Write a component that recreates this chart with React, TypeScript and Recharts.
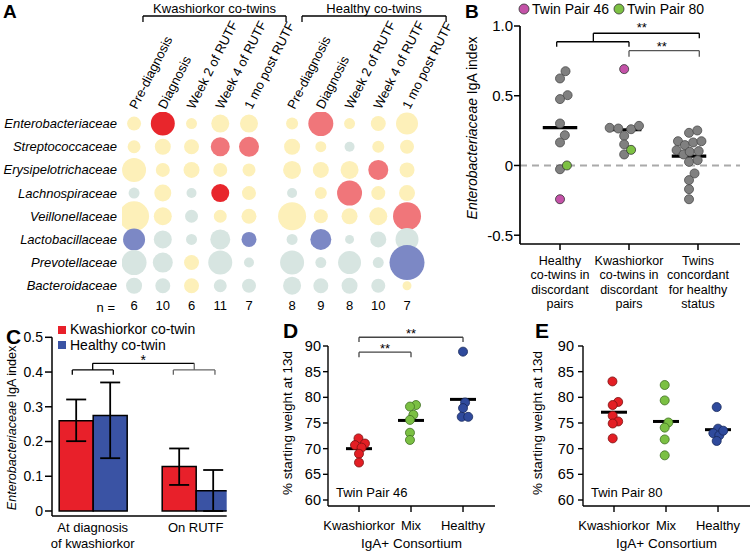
import React from 'react';
import {
  ScatterChart, Scatter, XAxis, YAxis, ZAxis, Cell, ReferenceLine, ReferenceDot,
  BarChart, Bar, ErrorBar, Legend,
} from 'recharts';

const FONT = '"Liberation Sans", Arial, Helvetica, sans-serif';

// ================= Panel A data =================
const families = ['Enterobacteriaceae', 'Streptococcaceae', 'Erysipelotrichaceae', 'Lachnospiraceae', 'Veillonellaceae', 'Lactobacillaceae', 'Prevotellaceae', 'Bacteroidaceae'];
const timepoints = ['Pre-diagnosis', 'Diagnosis', 'Week 2 of RUTF', 'Week 4 of RUTF', '1 mo post RUTF'];
const kwashN = [6, 10, 6, 11, 7];
const healthyN = [8, 9, 8, 10, 7];
const kwashAbund = [
  [49, 144, 30, 81, 81],
  [42, 64, 56, 90, 100],
  [144, 49, 64, 49, 42],
  [30, 72, 25, 81, 49],
  [225, 81, 42, 42, 56],
  [121, 81, 30, 100, 56],
  [156, 100, 56, 144, 25],
  [64, 56, 56, 42, 49],
];
const healthyAbund = [
  [36, 156, 30, 56, 121],
  [64, 30, 25, 36, 49],
  [81, 64, 81, 100, 56],
  [25, 36, 156, 49, 64],
  [196, 49, 64, 81, 196],
  [30, 110, 20, 64, 132],
  [144, 30, 132, 30, 306],
  [81, 56, 64, 49, 20],
];
const kwashClass = ['YRYYY', 'YYYPP', 'YYYYY', 'GYGRY', 'YYGYY', 'BGGGB', 'GGYGG', 'GGYGG'];
const healthyClass = ['YPYYY', 'YYGYY', 'YYYPY', 'GYPYY', 'YYYYP', 'GBGGG', 'GGGGB', 'GGGGY'];
const classColor: Record<string, string> = { R: '#e8262c', P: '#f0767a', Y: '#fdf0b9', G: '#d7e5e1', B: '#7c88c5' };

// ================= Panel B data =================
const bCategories = [
  ['Healthy', 'co-twins in', 'discordant', 'pairs'],
  ['Kwashiorkor', 'co-twins in', 'discordant', 'pairs'],
  ['Twins', 'concordant', 'for healthy', 'status'],
];
const bHealthyIdx = [0.676, 0.624, 0.504, 0.476, 0.301, 0.217, 0.165, -0.027];
const bHealthyJit = [0.08, 0, 0.11, 0, 0, 0.07, 0, 0];
const bKwashIdx = [0.27, 0.265, 0.26, 0.284, 0.212, 0.151, 0.079];
const bKwashJit = [-0.28, -0.155, 0.03, 0.145, -0.07, -0.07, -0.07];
const bConcIdx = [0.234, 0.251, 0.174, 0.146, 0.165, 0.174, 0.11, 0.079, 0.098, 0.103, 0.026, 0.038, -0.057, -0.105, -0.17, -0.242];
const bConcJit = [-0.13, -0.01, -0.29, -0.19, -0.07, 0.05, -0.31, -0.21, -0.12, 0.01, -0.13, -0.005, -0.05, -0.13, -0.13, -0.13];
const pair46Idx = [-0.242, 0.691];
const pair46Jit = [0, -0.07];
const pair80Idx = [0.0, 0.112];
const pair80Jit = [0.1, 0.03];
const bMedians = [0.272, 0.256, 0.067];

// ================= Panel C data =================
const cGroups = [['At diagnosis', 'of kwashiorkor'], ['On RUTF']];
const cKwash = [0.26, 0.128];
const cKwashErr = [[0.059, 0.061], [0.053, 0.052]];
const cHealthy = [0.275, 0.058];
const cHealthyErr = [[0.123, 0.095], [0.058, 0.06]];

// ================= Panels D/E data =================
const consortia = ['Kwashiorkor', 'Mix', 'Healthy'];
const dKwash = [72.0, 71.0, 70.7, 70.2, 69.0, 67.3];
const dKwashJit = [-0.01, 0.115, -0.077, 0.05, 0, 0];
const dMix = [78.5, 78.2, 76.6, 75.6, 73.1, 71.7];
const dMixJit = [0.096, -0.02, 0.045, -0.02, -0.02, -0.02];
const dHealthy = [88.9, 79.0, 77.9, 76.2, 76.2];
const dHealthyJit = [0, 0.04, 0, -0.025, 0.1];
const dMeans = [70.0, 75.5, 79.6];
const eKwash = [83.1, 79.1, 78.5, 76.4, 75.3, 74.9, 72.0];
const eKwashJit = [-0.03, 0.08, -0.025, -0.025, 0.08, -0.025, -0.025];
const eMix = [82.4, 79.4, 75.1, 74.1, 71.8, 68.7];
const eMixJit = [-0.025, -0.025, 0.045, -0.025, -0.025, -0.025];
const eHealthy = [78.1, 73.9, 73.0, 72.6, 73.5, 71.5];
const eHealthyJit = [-0.025, 0, -0.09, 0.025, 0.1, -0.025];
const eMeans = [77.1, 75.3, 73.7];

// ================= helpers =================
function seg(key: string, x1: number, y1: number, x2: number, y2: number, stroke = '#000', extra: any = {}) {
  return (
    <ReferenceLine key={key} segment={[{ x: x1, y: y1 }, { x: x2, y: y2 }]} stroke={stroke}
      strokeWidth={1.3} ifOverflow="visible" {...extra} />
  );
}
function bracket(key: string, xL: number, xR: number, yH: number, yEnd: number, stroke = '#000', extra: any = {}) {
  return [
    seg(key + 'h', xL, yH, xR, yH, stroke, extra),
    seg(key + 'l', xL, yH, xL, yEnd, stroke, extra),
    seg(key + 'r', xR, yH, xR, yEnd, stroke, extra),
  ];
}
function note(key: string, x: number, y: number, text: string, fontSize = 13, position: any = 'center', extra: any = {}, labelExtra: any = {}) {
  return (
    <ReferenceDot key={key} x={x} y={y} r={0} fill="none" stroke="none" ifOverflow="visible"
      label={{ value: text, position, fill: '#000', fontSize, offset: 0, ...labelExtra }} {...extra} />
  );
}

// ================= Panel A =================
const colPos = [...timepoints.map((_, i) => i), ...timepoints.map((_, i) => i + 5.5)];
const colLabels = [...timepoints, ...timepoints];
const colN = [...kwashN, ...healthyN];
const bubbles = families.flatMap((_, r) => [
  ...kwashAbund[r].map((z, i) => ({ x: colPos[i], y: r, z, cls: kwashClass[r][i] })),
  ...healthyAbund[r].map((z, i) => ({ x: colPos[i + 5], y: r, z, cls: healthyClass[r][i] })),
]);

function PanelA() {
  const ax = { xAxisId: 'b' };
  const famTick = (p: any) => (
    <text x={p.x} y={p.y} dy="0.35em" textAnchor="end" fontSize={13} fontStyle="italic" fill="#000">
      {families[p.payload.value]}
    </text>
  );
  const nTick = (p: any) => (
    <text x={p.x} y={p.y} dy="0.71em" textAnchor="middle" fontSize={13} fill="#000">
      {colN[colPos.indexOf(p.payload.value)]}
    </text>
  );
  return (
    <ScatterChart width={460} height={320} margin={{ top: 112, right: 30, bottom: 0, left: 0 }}>
      <XAxis xAxisId="b" type="number" dataKey="x" domain={[-0.42, 10.3]} allowDataOverflow ticks={colPos}
        interval={0} height={25} tick={nTick} tickSize={0} tickMargin={6} axisLine={false} tickLine={false}
        label={{ value: 'n =', position: 'left', offset: 7, fontSize: 13, fill: '#000' }} />
      <YAxis type="number" dataKey="y" domain={[-0.5, 7.4]} reversed allowDataOverflow
        ticks={families.map((_, i) => i)} interval={0} width={122} tick={famTick} tickSize={0} tickMargin={5}
        axisLine={false} tickLine={false} />
      <ZAxis type="number" dataKey="z" domain={[0, 400]} range={[0, 400 * Math.PI]} />
      <Scatter xAxisId="b" data={bubbles} isAnimationActive={false}>
        {bubbles.map((d, i) => <Cell key={i} fill={classColor[d.cls]} />)}
      </Scatter>
      {colPos.map((c, i) => note('cl' + i, c - 0.05, -0.681, colLabels[i], 13, 'right', ax, { angle: -63 }))}
      {bracket('kb', 0.31, 5.29, -4.645, -4.386, '#000', ax)}
      {bracket('hb', 5.845, 10.86, -4.645, -4.386, '#000', ax)}
      {note('kt', 2.8, -4.97, 'Kwashiorkor co-twins', 13, 'center', ax)}
      {note('ht', 8.35, -4.97, 'Healthy co-twins', 13, 'center', ax)}
    </ScatterChart>
  );
}

// ================= Panel B =================
function PanelB() {
  const gray = [
    ...bHealthyIdx.map((y, i) => ({ x: 0 + bHealthyJit[i], y })),
    ...bKwashIdx.map((y, i) => ({ x: 1 + bKwashJit[i], y })),
    ...bConcIdx.map((y, i) => ({ x: 2 + bConcJit[i], y })),
  ];
  const p46 = pair46Idx.map((y, i) => ({ x: i + pair46Jit[i], y }));
  const p80 = pair80Idx.map((y, i) => ({ x: i + pair80Jit[i], y }));
  const medOff = [0, -0.07, -0.13];
  const bTick = (p: any) => {
    const lines = bCategories[p.payload.value];
    return (
      <text x={p.x} y={p.y} textAnchor="middle" fontSize={12.5} fill="#000">
        {lines.map((l, i) => <tspan key={i} x={p.x} dy={i === 0 ? 13 : 14.3}>{l}</tspan>)}
      </text>
    );
  };
  const yLabel = () => (
    <text x={12} y={128} transform="rotate(-90 12 128)" textAnchor="middle" dominantBaseline="central" fontSize={14} fill="#000">
      <tspan fontStyle="italic">Enterobacteriaceae</tspan> IgA index
    </text>
  );
  const legend = () => (
    <div style={{ display: 'flex', alignItems: 'center', fontSize: 14, fontFamily: FONT, whiteSpace: 'nowrap', lineHeight: '16px', color: '#000' }}>
      <svg width={12} height={12}><circle cx={6} cy={6} r={5} fill="#c452a8" stroke="#333" strokeWidth={0.8} /></svg>
      <span style={{ marginLeft: 2 }}>Twin Pair 46</span>
      <svg width={12} height={12} style={{ marginLeft: 4 }}><circle cx={6} cy={6} r={5} fill="#7dc143" stroke="#333" strokeWidth={0.8} /></svg>
      <span style={{ marginLeft: 2 }}>Twin Pair 80</span>
    </div>
  );
  return (
    <ScatterChart width={290} height={320} margin={{ top: 26, right: 10, bottom: 6, left: 0 }}>
      <XAxis type="number" dataKey="x" domain={[-0.58, 2.609]} allowDataOverflow ticks={[0, 1, 2]} interval={0}
        height={70} tick={bTick} tickSize={6} tickMargin={2}
        axisLine={{ stroke: '#000', strokeWidth: 1.7 }} tickLine={{ stroke: '#000', strokeWidth: 1.5 }} />
      <YAxis type="number" dataKey="y" domain={[-0.563, 1]} allowDataOverflow ticks={[-0.5, 0, 0.5, 1]} interval={0}
        width={60} tick={{ fill: '#000', fontSize: 15 }} tickSize={6} tickMargin={1}
        tickFormatter={(v: number) => (v === 0 ? '0' : v.toFixed(1))}
        axisLine={{ stroke: '#000', strokeWidth: 1.7 }} tickLine={{ stroke: '#000', strokeWidth: 1.5 }} label={yLabel} />
      <ZAxis range={[62, 62]} />
      <ReferenceLine y={0} stroke="#aaaaaa" strokeWidth={2} strokeDasharray="7 5" />
      <Scatter data={gray} fill="#808080" stroke="#4a4a4a" strokeWidth={0.8} isAnimationActive={false} />
      <Scatter data={p46} fill="#c452a8" stroke="#333" strokeWidth={0.8} isAnimationActive={false} />
      <Scatter data={p80} fill="#7dc143" stroke="#333" strokeWidth={0.8} isAnimationActive={false} />
      {bMedians.map((m, i) => seg('m' + i, i + medOff[i] - 0.25, m, i + medOff[i] + 0.25, m, '#000', { strokeWidth: 3.2 }))}
      {bracket('b1', -0.048, 1, 0.887, 0.851, '#000')}
      {seg('b1s', 0.483, 0.887, 0.483, 0.948)}
      {seg('b1t', 0.483, 0.948, 2.019, 0.948)}
      {seg('b1r', 2.019, 0.948, 2.019, 0.912)}
      {bracket('b2', 1, 2.019, 0.823, 0.78, '#555')}
      {note('s1', 1.184, 0.992, '**', 13)}
      {note('s2', 1.474, 0.855, '**', 13)}
      <Legend layout="horizontal" verticalAlign="middle" align="center"
        wrapperStyle={{ top: 1, left: 58, width: 230, height: 16 }} content={legend} />
    </ScatterChart>
  );
}

// ================= Panel C =================
function PanelC() {
  const cData = cGroups.map((_, i) => ({ idx: i, kw: cKwash[i], kwErr: cKwashErr[i], h: cHealthy[i], hErr: cHealthyErr[i] }));
  const cTick = (p: any) => {
    const lines = cGroups[p.payload.value];
    return (
      <text x={p.x} y={p.y} textAnchor="middle" fontSize={13} fill="#000">
        {lines.map((l, i) => <tspan key={i} x={p.x} dy={i === 0 ? 14 : 16}>{l}</tspan>)}
      </text>
    );
  };
  const yLabel = () => (
    <text x={12} y={138} transform="rotate(-90 12 138)" textAnchor="middle" dominantBaseline="central" fontSize={12.6} fill="#000">
      <tspan fontStyle="italic">Enterobacteriaceae</tspan> IgA index
    </text>
  );
  const legend = () => (
    <div style={{ fontSize: 14, fontFamily: FONT, whiteSpace: 'nowrap', lineHeight: '15.5px', color: '#000' }}>
      <div style={{ display: 'flex', alignItems: 'center' }}>
        <span style={{ display: 'inline-block', width: 8, height: 8, background: '#e8202a', marginRight: 4 }} />Kwashiorkor co-twin
      </div>
      <div style={{ display: 'flex', alignItems: 'center' }}>
        <span style={{ display: 'inline-block', width: 8, height: 8, background: '#3a53a4', marginRight: 4 }} />Healthy co-twin
      </div>
    </div>
  );
  return (
    <BarChart width={250} height={264} data={cData} margin={{ top: 47.3, right: 23.3, bottom: 0, left: 0 }} barGap={0}>
      <XAxis type="number" dataKey="idx" domain={[-0.395, 1.301]} allowDataOverflow ticks={[0, 1]} interval={0}
        height={38} tick={cTick} tickSize={0} tickMargin={2} tickLine={false} axisLine={{ stroke: '#000', strokeWidth: 1.5 }} />
      <YAxis type="number" domain={[-0.0144, 0.5]} allowDataOverflow ticks={[0, 0.1, 0.2, 0.3, 0.4, 0.5]} interval={0}
        width={52} tick={{ fill: '#000', fontSize: 14 }} tickSize={7} tickMargin={2}
        tickFormatter={(v: number) => (v === 0 ? '0' : v.toFixed(1))}
        axisLine={{ stroke: '#000', strokeWidth: 1.5 }} tickLine={{ stroke: '#000', strokeWidth: 1.5 }} label={yLabel} />
      <Bar dataKey="kw" fill="#e8202a" stroke="#000" strokeWidth={1.5} barSize={34} isAnimationActive={false}>
        <ErrorBar dataKey="kwErr" width={10} stroke="#000" strokeWidth={1.8} direction="y" />
      </Bar>
      <Bar dataKey="h" fill="#3a53a4" stroke="#000" strokeWidth={1.5} barSize={34} isAnimationActive={false}>
        <ErrorBar dataKey="hErr" width={10} stroke="#000" strokeWidth={1.8} direction="y" />
      </Bar>
      {bracket('c1', -0.198, 0.2, 0.406, 0.392, '#000')}
      {seg('c1s', 0, 0.406, 0, 0.425)}
      {seg('ct', 0, 0.425, 0.986, 0.425)}
      {bracket('c2', 0.783, 1.187, 0.406, 0.392, '#666')}
      {seg('c2s', 0.986, 0.406, 0.986, 0.425, '#666')}
      {note('cs', 0.49, 0.436, '*', 14)}
      <Legend layout="horizontal" verticalAlign="middle" align="center"
        wrapperStyle={{ top: 32, left: 58, width: 150, height: 31 }} content={legend} />
    </BarChart>
  );
}

// ================= Panels D / E =================
function WeightPanel(props: any) {
  const { width, kw, kwJ, mix, mixJ, hl, hlJ, means, pairLabel, sig, titleX, tickMargin, right } = props;
  const kwD = kw.map((y: number, i: number) => ({ x: 0 + kwJ[i], y }));
  const mixD = mix.map((y: number, i: number) => ({ x: 1 + mixJ[i], y }));
  const hlD = hl.map((y: number, i: number) => ({ x: 2 + hlJ[i], y }));
  const yLabel = () => (
    <text x={titleX} y={205} transform={`rotate(-90 ${titleX} 205)`} textAnchor="start" dominantBaseline="central" fontSize={13.5} fill="#000">
      % starting weight at 13d
    </text>
  );
  return (
    <ScatterChart width={width} height={264} margin={{ top: 56, right, bottom: 0, left: 0 }}>
      <XAxis type="number" dataKey="x" domain={[-0.596, 2.615]} allowDataOverflow ticks={[0, 1, 2]} interval={0}
        tickFormatter={(i: number) => consortia[i]} tick={{ fill: '#000', fontSize: 13 }} tickSize={6} tickMargin={8.5}
        height={48} axisLine={{ stroke: '#000', strokeWidth: 1.4 }} tickLine={{ stroke: '#000', strokeWidth: 1.4 }}
        label={{ value: 'IgA+ Consortium', position: 'insideBottom', offset: 6, fontSize: 13.5, fill: '#000' }} />
      <YAxis type="number" dataKey="y" domain={[58.83, 90]} allowDataOverflow ticks={[60, 65, 70, 75, 80, 85, 90]} interval={0}
        width={78} tick={{ fill: '#000', fontSize: 14.5 }} tickSize={5} tickMargin={tickMargin}
        axisLine={{ stroke: '#000', strokeWidth: 1.4 }} tickLine={{ stroke: '#000', strokeWidth: 1.4 }} label={yLabel} />
      <ZAxis range={[40, 40]} />
      <Scatter data={kwD} fill="#e31e24" stroke="#7a1010" strokeWidth={0.8} isAnimationActive={false} />
      <Scatter data={mixD} fill="#7bc043" stroke="#3f6e22" strokeWidth={0.8} isAnimationActive={false} />
      <Scatter data={hlD} fill="#2f4a9c" stroke="#17285c" strokeWidth={0.8} isAnimationActive={false} />
      {means.map((m: number, i: number) => seg('m' + i, i - 0.25, m, i + 0.25, m, '#000', { strokeWidth: 3 }))}
      {sig && bracket('d1', 0, 1, 88.8, 87.8, '#444')}
      {sig && bracket('d2', 0, 2, 91.7, 90.8, '#444')}
      {sig && note('ds1', 0.5, 89.6, '**', 13)}
      {sig && note('ds2', 1, 92.5, '**', 13)}
      {note('tp', -0.442, 61.5, pairLabel, 13, 'right')}
    </ScatterChart>
  );
}

export default function App() {
  const letter = { fontFamily: FONT, fontWeight: 700, fill: '#000' } as any;
  return (
    <div style={{ position: 'absolute', left: 0, top: 0, width: 750, height: 554, background: '#fff', fontFamily: FONT, overflow: 'hidden' }}>
      <div style={{ position: 'absolute', left: 0, top: 0 }}><PanelA /></div>
      <div style={{ position: 'absolute', left: 460, top: 0 }}><PanelB /></div>
      <div style={{ position: 'absolute', left: 0, top: 290 }}><PanelC /></div>
      <div style={{ position: 'absolute', left: 250, top: 290 }}>
        <WeightPanel width={250} right={5} kw={dKwash} kwJ={dKwashJit} mix={dMix} mixJ={dMixJit} hl={dHealthy} hlJ={dHealthyJit}
          means={dMeans} pairLabel="Twin Pair 46" sig titleX={37.5} tickMargin={2} />
      </div>
      <div style={{ position: 'absolute', left: 505, top: 290 }}>
        <WeightPanel width={245} right={0} kw={eKwash} kwJ={eKwashJit} mix={eMix} mixJ={eMixJit} hl={eHealthy} hlJ={eHealthyJit}
          means={eMeans} pairLabel="Twin Pair 80" sig={false} titleX={32.5} tickMargin={4} />
      </div>
      <svg width={750} height={554} style={{ position: 'absolute', left: 0, top: 0, pointerEvents: 'none' }}>
        <text x={3} y={18} fontSize={19} {...letter}>A</text>
        <text x={465} y={18} fontSize={19} {...letter}>B</text>
        <text x={6} y={344} fontSize={21} {...letter}>C</text>
        <text x={283} y={338} fontSize={21} {...letter}>D</text>
        <text x={535} y={338} fontSize={21} {...letter}>E</text>
      </svg>
    </div>
  );
}
